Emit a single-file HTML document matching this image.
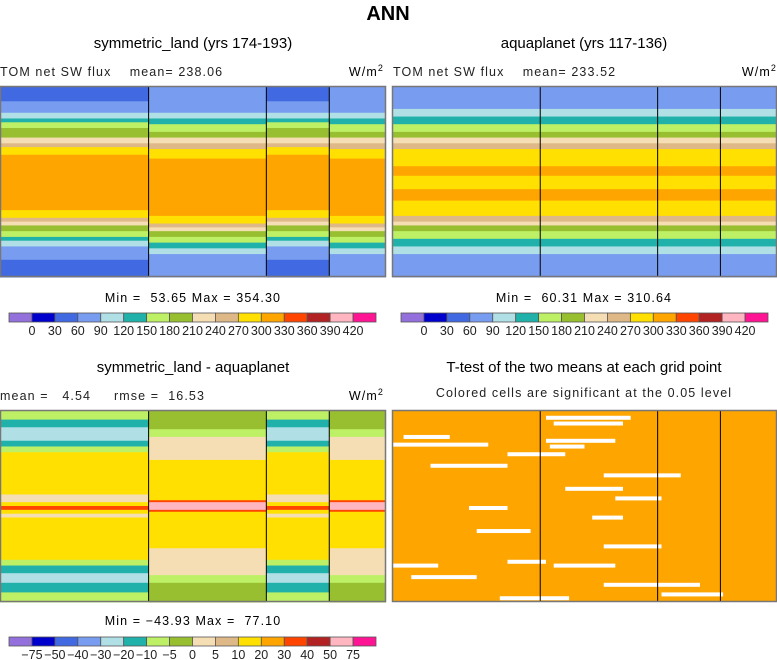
<!DOCTYPE html>
<html><head><meta charset="utf-8"><style>
html,body{margin:0;padding:0;background:#fff}
svg{display:block;font-family:"Liberation Sans",sans-serif}
.sub{letter-spacing:1.1px}
</style></head><body>
<svg id="fig" width="777" height="660" viewBox="0 0 777 660">
<text x="388" y="20" font-size="20" font-weight="bold" text-anchor="middle">ANN</text>

<text x="193" y="48" font-size="15" text-anchor="middle">symmetric_land (yrs 174-193)</text>
<text class="sub" x="0" y="76" font-size="12.5" fill="#222">TOM net SW flux &#160;&#160;&#160;mean= 238.06</text>
<text class="sub" x="384" y="76" font-size="12.5" text-anchor="end">W/m<tspan dy="-5" font-size="9">2</tspan></text>

<text x="584" y="48" font-size="15" text-anchor="middle">aquaplanet (yrs 117-136)</text>
<text class="sub" x="393" y="76" font-size="12.5" fill="#222">TOM net SW flux &#160;&#160;&#160;mean= 233.52</text>
<text class="sub" x="777" y="76" font-size="12.5" text-anchor="end">W/m<tspan dy="-5" font-size="9">2</tspan></text>

<text x="193" y="372" font-size="15" text-anchor="middle">symmetric_land - aquaplanet</text>
<text class="sub" x="0" y="400" font-size="12.5" fill="#222">mean = &#160;&#160;4.54 &#160;&#160;&#160;&#160;rmse = &#160;16.53</text>
<text class="sub" x="384" y="400" font-size="12.5" text-anchor="end">W/m<tspan dy="-5" font-size="9">2</tspan></text>

<text x="584" y="372" font-size="15" text-anchor="middle">T-test of the two means at each grid point</text>
<text class="sub" x="584" y="397" font-size="12.5" text-anchor="middle" fill="#222">Colored cells are significant at the 0.05 level</text>

<text class="sub" x="193" y="302" font-size="12.5" text-anchor="middle">Min = &#160;53.65 Max = 354.30</text>
<text class="sub" x="584" y="302" font-size="12.5" text-anchor="middle">Min = &#160;60.31 Max = 310.64</text>
<text class="sub" x="193" y="625" font-size="12.5" text-anchor="middle">Min = −43.93 Max = &#160;77.10</text>
<g id="layer"></g>
</svg>
<script>
const C={rb:'#4169e1',cb:'#789cf0',lb:'#b0e0e6',tl:'#20b2aa',lg:'#bef065',gr:'#98bf30',wh:'#f5deb3',tn:'#deb887',ye:'#ffe000',or:'#ffa500',rd:'#ff4500',br:'#b22222',pk:'#ffb6c1',mg:'#ff1493',pu:'#9370db',nv:'#0000cd'};
const barColors=['pu','nv','rb','cb','lb','tl','lg','gr','wh','tn','ye','or','rd','br','pk','mg'];
const absLabels=['0','30','60','90','120','150','180','210','240','270','300','330','360','390','420'];
const diffLabels=['−75','−50','−40','−30','−20','−10','−5','0','5','10','20','30','40','50','75'];
const landBands=[['rb',.08],['cb',.14],['lb',.17],['tl',.19],['lg',.22],['gr',.27],['wh',.30],['tn',.32],['ye',.36],['or',.65],['ye',.69],['tn',.71],['wh',.73],['gr',.76],['lg',.79],['tl',.81],['lb',.84],['cb',.91],['rb',1]];
const oceanBands=[['cb',.14],['lb',.17],['tl',.2],['lg',.24],['gr',.27],['wh',.30],['tn',.33],['ye',.38],['or',.68],['ye',.72],['tn',.74],['wh',.76],['gr',.79],['lg',.82],['tl',.85],['lb',.88],['cb',1]];
const aquaBands=[['cb',.12],['lb',.16],['tl',.2],['lg',.24],['gr',.27],['wh',.3],['tn',.33],['ye',.42],['or',.47],['ye',.54],['or',.6],['ye',.68],['tn',.71],['wh',.73],['gr',.76],['lg',.8],['tl',.84],['lb',.88],['cb',1]];
const diffLandBands=[['lg',.05],['tl',.09],['lb',.16],['tl',.19],['lg',.22],['ye',.44],['wh',.48],['ye',.5],['rd',.52],['ye',.54],['wh',.56],['ye',.78],['lg',.81],['tl',.85],['lb',.9],['tl',.95],['lg',1]];
const diffOceanBands=[['gr',.1],['lg',.14],['wh',.26],['ye',.47],['rd',.48],['pk',.52],['rd',.53],['ye',.72],['wh',.86],['lg',.9],['gr',1]];
const segs=[0,.385,.69,.853,1];
const svg=document.getElementById('layer');
const NS='http://www.w3.org/2000/svg';
function el(t,a){const e=document.createElementNS(NS,t);for(const k in a)e.setAttribute(k,a[k]);svg.appendChild(e);return e;}
function panel(px,py,w,h,segBands,name){
  for(let s=0;s<4;s++){
    const x0=px+segs[s]*w,x1=px+segs[s+1]*w;let y0=0;
    for(const [c,f] of segBands[s]){
      const r=el('rect',{x:x0,y:py+y0*h,width:x1-x0,height:(f-y0)*h+0.5,fill:C[c]});
      
      
      y0=f;}
  }
  for(let s=1;s<4;s++){const l=el('line',{x1:px+segs[s]*w,x2:px+segs[s]*w,y1:py,y2:py+h,stroke:'#000','stroke-width':1});
    }
  const f=el('rect',{x:px+.5,y:py+.5,width:w-1,height:h-1,fill:'none',stroke:'#777','stroke-width':1.5});
  
}
panel(0,86,386,191,[landBands,oceanBands,landBands,oceanBands],'panel1');
panel(392,86,385,191,[aquaBands,aquaBands,aquaBands,aquaBands],'panel2');
panel(0,410,386,192,[diffLandBands,diffOceanBands,diffLandBands,diffOceanBands],'panel3');
const tt=el('rect',{x:392,y:410,width:385,height:192,fill:'#ffa500'});

const gapRows=[[.03,.4,.62],[.06,.42,.6],[.15,.4,.58],[.18,.41,.5],[.13,.03,.15],[.17,.0,.25],[.22,.3,.45],[.28,.1,.3],[.33,.55,.75],[.4,.45,.6],[.45,.58,.7],[.5,.2,.3],[.55,.52,.6],[.62,.22,.36],[.7,.55,.7],[.78,.3,.4],[.8,.0,.12],[.86,.05,.22],[.8,.42,.58],[.9,.55,.8],[.95,.7,.86],[.97,.28,.46]];
for(const [fy,a,b] of gapRows){const g=el('rect',{x:392+a*385,y:410+fy*192,width:(b-a)*385,height:4,fill:'#fff'});
  }
for(let s=1;s<4;s++){const l=el('line',{x1:392+segs[s]*385,x2:392+segs[s]*385,y1:410,y2:602,stroke:'#000'});
  }
const f4=el('rect',{x:392.5,y:410.5,width:384,height:191,fill:'none',stroke:'#777','stroke-width':1.5});

function colorbar(x,y,w,labels,name){
  const bw=w/barColors.length;
  barColors.forEach((c,i)=>{const r=el('rect',{x:x+i*bw,y:y,width:bw,height:9,fill:C[c],stroke:'#555','stroke-width':.8});
    });
  labels.forEach((t,i)=>{const e=el('text',{x:x+(i+1)*bw,y:y+22,'font-size':12.5,'text-anchor':'middle',fill:'#222'});e.textContent=t;
    });
}
colorbar(9,313,367,absLabels,'colorbar1');
colorbar(401,313,367,absLabels,'colorbar2');
colorbar(9,637,367,diffLabels,'colorbar3');
</script>
</body></html>
